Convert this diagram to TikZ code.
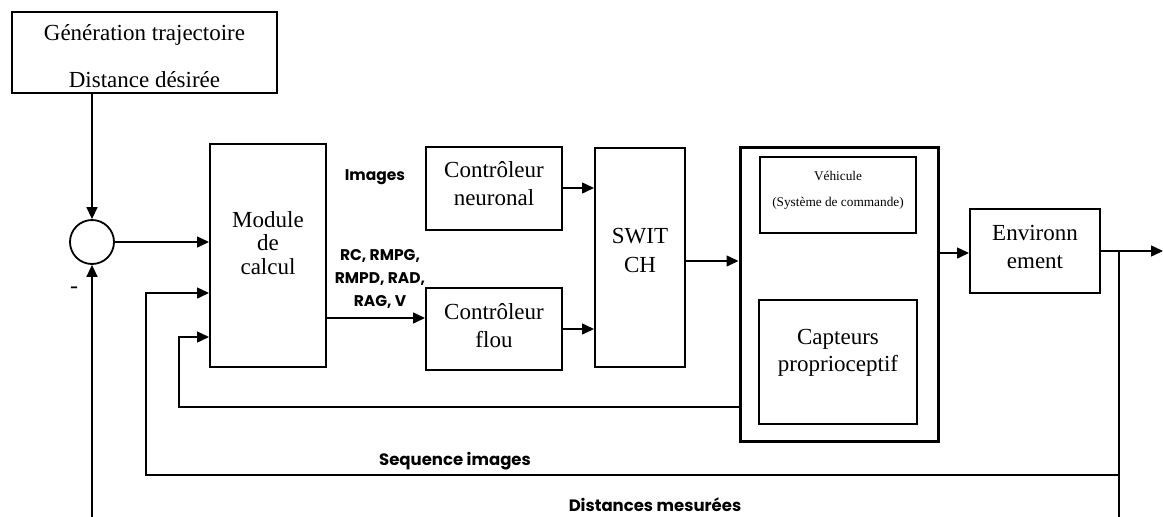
\documentclass[tikz,border=0pt]{standalone}
\usepackage{fontspec}
\setmainfont{Liberation Serif}
\newfontfamily\labfont{Poppins}
\usetikzlibrary{arrows.meta}
\begin{document}
\begin{tikzpicture}[x=1pt,y=-1pt,
  box/.style={draw,line width=2pt,rectangle,inner sep=0pt},
  txt/.style={align=center,inner sep=0pt,font=\fontsize{23}{28}\selectfont},
  lab/.style={align=center,inner sep=0pt,font=\labfont\bfseries\fontsize{15.5}{23}\selectfont},
  conn/.style={line width=1.5pt},
  arr/.style={conn,-{Triangle[length=12pt,width=11pt]}}]
\useasboundingbox (0,0) rectangle (1163,517);
% boxes
\node[box,minimum width=265pt,minimum height=81pt] (top) at (144.5,52.5) {};
\node[txt,font=\fontsize{23}{47}\selectfont] (toptext) at (144.5,56.5) {Génération trajectoire\\Distance désirée};
\node[draw,line width=1.8pt,circle,minimum size=44pt,inner sep=0pt] (circ) at (92,242) {};
\node[box,minimum width=116pt,minimum height=223pt] (module) at (268,255.5) {};
\node[txt,font=\fontsize{23}{23.5}\selectfont] (modtext) at (268,243) {Module\\de\\calcul};
\node[box,minimum width=136pt,minimum height=83pt] (neur) at (494,188.5) {};
\node[txt] (neurtext) at (494,184) {Contrôleur\\neuronal};
\node[box,minimum width=136pt,minimum height=82pt] (flou) at (494,329) {};
\node[txt] (floutext) at (494,326) {Contrôleur\\flou};
\node[box,minimum width=90pt,minimum height=219pt] (switch) at (640,257.5) {};
\node[txt,font=\fontsize{23}{29}\selectfont] (swtext) at (640,250) {SWIT\\CH};
\node[box,line width=3pt,minimum width=198pt,minimum height=294pt] (veh) at (839,294) {};
\node[draw,line width=1.2pt,rectangle,minimum width=156pt,minimum height=76pt] (vehin) at (838,195) {};
\node[txt,font=\fontsize{13.3}{26}\selectfont] (vehtext) at (838,190) {Véhicule\\(Système de commande)};
\node[box,line width=2.4pt,minimum width=158pt,minimum height=124pt] (capt) at (838,362) {};
\node[txt,font=\fontsize{23}{27}\selectfont] (capttext) at (838,353) {Capteurs\\proprioceptif};
\node[box,minimum width=130pt,minimum height=84pt] (env) at (1035,251) {};
\node[txt] (envtext) at (1035,247) {Environn\\ement};
% labels
\node[lab] (limages) at (375,177) {Images};
\node[lab] (lrc) at (380,279) {RC, RMPG,\\RMPD, RAD,\\RAG, V};
\node[lab,font=\labfont\bfseries\fontsize{16.5}{23}\selectfont] (lseq) at (455,461) {Sequence images};
\node[lab,font=\labfont\bfseries\fontsize{16.5}{23}\selectfont] (ldist) at (655,505) {Distances mesurées};
\node[inner sep=0pt,font=\fontsize{24}{24}\selectfont] (minus) at (74,290) {-};
% coordinates
\coordinate (bot1) at (92,517);
\coordinate (out) at (1163,251);
\coordinate (br) at (1119,251);
\coordinate (bot2) at (1119,517);
\coordinate (s1) at (1119,475);
\coordinate (s2) at (146,475);
\coordinate (s3) at (146,293);
\coordinate (i0) at (740,407);
\coordinate (i1) at (179,407);
\coordinate (i2) at (179,337);
% connectors
\draw[arr] (top.south -| circ.north) -- (circ.north);
\draw[arr] (circ.east) -- (circ.east -| module.west);
\draw[arr] (bot1) -- (circ.south);
\draw[arr] (module.east |- 0,318) -- (flou.west |- 0,318);
\draw[arr] (neur.east |- 0,188) -- (switch.west |- 0,188);
\draw[arr] (flou.east |- 0,329) -- (switch.west |- 0,329);
\draw[arr] (switch.east |- 0,261) -- (veh.west |- 0,261);
\draw[arr] (veh.east |- 0,253) -- (env.west |- 0,253);
\draw[arr] (env.east) -- (out);
\draw[conn] (br) -- (bot2);
\draw[arr] (s1) -- (s2) -- (s3) -- (s3 -| module.west);
\draw[arr] (i0) -- (i1) -- (i2) -- (i2 -| module.west);
\end{tikzpicture}
\end{document}
